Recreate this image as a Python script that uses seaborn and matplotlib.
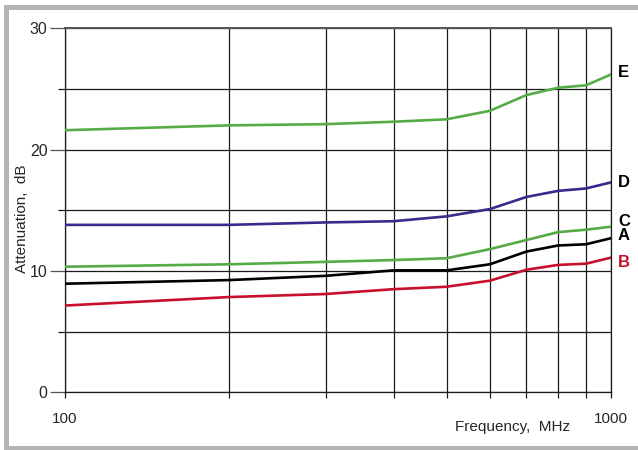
"""Attenuation vs frequency curves for filter types A-E."""

import matplotlib
matplotlib.use("Agg")
import matplotlib.pyplot as plt
from matplotlib.patches import Rectangle
from matplotlib.ticker import FixedLocator, NullFormatter
import numpy as np
import pandas as pd
import seaborn as sns

# --- data ----------------------------------------------------------------
freq_mhz = [100, 200, 300, 400, 500, 600, 700, 800, 900, 1000]

att_e = [21.6, 22.0, 22.1, 22.3, 22.5, 23.2, 24.5, 25.1, 25.3, 26.2]
att_d = [13.8, 13.8, 14.0, 14.1, 14.5, 15.1, 16.1, 16.6, 16.8, 17.3]
att_c = [10.35, 10.55, 10.75, 10.9, 11.05, 11.8, 12.55, 13.2, 13.4, 13.65]
att_a = [8.95, 9.25, 9.6, 10.05, 10.05, 10.55, 11.6, 12.1, 12.2, 12.7]
att_b = [7.15, 7.85, 8.1, 8.5, 8.7, 9.2, 10.1, 10.5, 10.6, 11.1]

series_names = ["E", "D", "C", "A", "B"]
series_values = [att_e, att_d, att_c, att_a, att_b]

y_major = [0, 10, 20, 30]
y_minor = [5, 15, 25]
x_major = [100, 1000]
x_minor = [200, 300, 400, 500, 600, 700, 800, 900]

# --- styling ---------------------------------------------------------------
palette = {
    "E": "#56ab47",
    "D": "#3a2a8c",
    "C": "#56ab47",
    "A": "#000000",
    "B": "#c8102e",
}
label_colors = {"E": "black", "D": "black", "C": "black", "A": "black", "B": "#c8102e"}
label_dy = {"E": 1.5, "D": 0.0, "C": 3.5, "A": 2.0, "B": -3.5}  # points

df = pd.DataFrame(
    [
        {"freq": f, "att": v, "series": name}
        for name, vals in zip(series_names, series_values)
        for f, v in zip(freq_mhz, vals)
    ]
)

sns.set_style("white")
plt.rcParams["font.family"] = ["Liberation Sans", "DejaVu Sans"]

fig = plt.figure(figsize=(6.38, 4.5), dpi=100)
ax = fig.add_axes([65 / 638, (450 - 392.3) / 450, 546 / 638, 364 / 450])

sns.lineplot(
    data=df,
    x="freq",
    y="att",
    hue="series",
    hue_order=series_names,
    palette=palette,
    linewidth=1.9,
    legend=False,
    sort=False,
    ax=ax,
    zorder=3,
)

ax.set_xscale("log")
ax.set_xlim(100, 1000)
ax.set_ylim(0, 30)

ax.xaxis.set_major_locator(FixedLocator(x_major))
ax.xaxis.set_minor_locator(FixedLocator(x_minor))
ax.xaxis.set_minor_formatter(NullFormatter())
ax.set_xticklabels([str(v) for v in x_major])
ax.yaxis.set_major_locator(FixedLocator(y_major))
ax.yaxis.set_minor_locator(FixedLocator(y_minor))
ax.yaxis.set_minor_formatter(NullFormatter())

ax.grid(True, which="both", color="#1a1a1a", linewidth=0.9)
for side in ["left", "right", "bottom"]:
    ax.spines[side].set_visible(True)
    ax.spines[side].set_color("#1a1a1a")
    ax.spines[side].set_linewidth(0.9)
ax.spines["top"].set_visible(True)
ax.spines["top"].set_color("#555555")
ax.spines["top"].set_linewidth(1.4)

ax.tick_params(axis="x", which="both", direction="out", length=4.5, width=0.9,
               color="#1a1a1a", pad=10, labelsize=11, bottom=True)
ax.tick_params(axis="y", which="major", direction="out", length=11, width=0.9,
               color="#555555", pad=1.5, labelsize=11.5, left=True)
ax.tick_params(axis="y", which="minor", direction="out", length=5, width=0.9,
               color="#1a1a1a", left=True)

ax.set_xlabel("")
ax.set_ylabel("")
ax.text((513 - 65) / 546, (392.3 - 427) / 364, "Frequency,  MHz", transform=ax.transAxes,
        ha="center", va="center", fontsize=11)
ax.text((22 - 65) / 546, (392.3 - 219) / 364, "Attenuation,  dB", transform=ax.transAxes,
        ha="center", va="center", rotation=90, fontsize=11)

for name, vals in zip(series_names, series_values):
    ax.annotate(
        name,
        xy=(freq_mhz[-1], vals[-1]),
        xytext=(5, label_dy[name]),
        textcoords="offset points",
        ha="left",
        va="center",
        fontsize=12,
        fontweight="bold",
        color=label_colors[name],
        annotation_clip=False,
    )

# light gray frame around the figure (top, left, bottom)
frame_color = "#b3b3b3"
fig.add_artist(Rectangle((4 / 638, 440 / 450), 634 / 638, 5 / 450,
                         transform=fig.transFigure, color=frame_color, lw=0))
fig.add_artist(Rectangle((4 / 638, 0), 5 / 638, 445 / 450,
                         transform=fig.transFigure, color=frame_color, lw=0))
fig.add_artist(Rectangle((4 / 638, 0), 634 / 638, 4 / 450,
                         transform=fig.transFigure, color=frame_color, lw=0))

fig.savefig("out.png", dpi=100)
